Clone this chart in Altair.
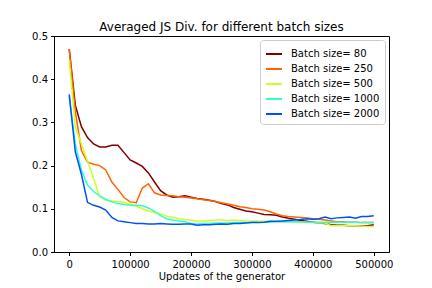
import altair as alt
import pandas as pd

updates = list(range(0, 500001, 10000))

b80 = [0.47, 0.34, 0.29, 0.265, 0.25, 0.243, 0.243, 0.247, 0.247, 0.23,
       0.213, 0.206, 0.198, 0.183, 0.162, 0.142, 0.132, 0.127, 0.128, 0.13,
       0.127, 0.124, 0.122, 0.12, 0.117, 0.112, 0.109, 0.103, 0.099, 0.095,
       0.093, 0.09, 0.087, 0.086, 0.085, 0.081, 0.078, 0.076, 0.073, 0.071,
       0.069, 0.067, 0.066, 0.063, 0.062, 0.062, 0.061, 0.061, 0.061, 0.061,
       0.063]
b250 = [0.47, 0.325, 0.235, 0.208, 0.203, 0.2, 0.19, 0.162, 0.145, 0.126,
        0.116, 0.114, 0.148, 0.158, 0.137, 0.132, 0.131, 0.13, 0.128, 0.127,
        0.125, 0.123, 0.121, 0.119, 0.117, 0.114, 0.111, 0.108, 0.105, 0.103,
        0.1, 0.099, 0.097, 0.093, 0.088, 0.084, 0.082, 0.081, 0.08, 0.079,
        0.077, 0.076, 0.074, 0.072, 0.07, 0.07, 0.069, 0.069, 0.068, 0.068,
        0.068]
b500 = [0.444, 0.29, 0.25, 0.21, 0.17, 0.128, 0.12, 0.118, 0.117, 0.115,
        0.111, 0.106, 0.1, 0.095, 0.092, 0.088, 0.083, 0.08, 0.077, 0.075,
        0.074, 0.071, 0.072, 0.073, 0.074, 0.074, 0.073, 0.074, 0.073, 0.072,
        0.072, 0.072, 0.071, 0.071, 0.07, 0.07, 0.07, 0.069, 0.069, 0.069,
        0.068, 0.067, 0.067, 0.061, 0.061, 0.061, 0.061, 0.061, 0.06, 0.059,
        0.059]
b1000 = [0.36, 0.25, 0.19, 0.155, 0.14, 0.13, 0.122, 0.116, 0.112, 0.11,
         0.108, 0.108, 0.107, 0.102, 0.094, 0.084, 0.077, 0.074, 0.072, 0.07,
         0.066, 0.065, 0.066, 0.066, 0.067, 0.067, 0.067, 0.068, 0.068, 0.068,
         0.069, 0.069, 0.069, 0.069, 0.07, 0.07, 0.07, 0.07, 0.07, 0.069,
         0.069, 0.069, 0.069, 0.069, 0.069, 0.069, 0.069, 0.069, 0.068, 0.068,
         0.068]
b2000 = [0.365, 0.232, 0.18, 0.115, 0.108, 0.104, 0.097, 0.08, 0.072, 0.07,
         0.068, 0.066, 0.066, 0.065, 0.065, 0.066, 0.065, 0.064, 0.064, 0.065,
         0.065, 0.062, 0.063, 0.063, 0.064, 0.065, 0.064, 0.066, 0.066, 0.067,
         0.068, 0.068, 0.069, 0.071, 0.071, 0.072, 0.073, 0.074, 0.075, 0.077,
         0.076, 0.077, 0.081, 0.077, 0.079, 0.08, 0.081, 0.078, 0.082, 0.082,
         0.084]

labels = ["Batch size= 80", "Batch size= 250", "Batch size= 500",
          "Batch size= 1000", "Batch size= 2000"]
colors = ["#800000", "#ff6400", "#ccff28", "#30ffc8", "#0050ff"]
series = [b80, b250, b500, b1000, b2000]

rows = []
for i, (lab, vals) in enumerate(zip(labels, series)):
    for u, v in zip(updates, vals):
        rows.append({"updates": u, "js": v, "batch": lab, "order": i})
df = pd.DataFrame(rows)

font = "DejaVu Sans"

chart = alt.Chart(df).mark_line(strokeWidth=1.5).encode(
    x=alt.X("updates:Q",
            scale=alt.Scale(domain=[-25000, 525000], nice=False, zero=False),
            axis=alt.Axis(title="Updates of the generator",
                          values=[0, 100000, 200000, 300000, 400000, 500000],
                          format="d", grid=False, tickColor="black",
                          domainColor="black", labelColor="black",
                          titleColor="black", tickSize=3.5, labelPadding=4,
                          titlePadding=2, labelFontSize=10, titleFontSize=10,
                          titleFontWeight="normal", labelFont=font, titleFont=font)),
    y=alt.Y("js:Q",
            scale=alt.Scale(domain=[0, 0.5], nice=False),
            axis=alt.Axis(title=None, values=[0, 0.1, 0.2, 0.3, 0.4, 0.5],
                          format=".1f", grid=False, tickColor="black",
                          domainColor="black", labelColor="black",
                          tickSize=3.5, labelPadding=3, labelFontSize=10,
                          labelFont=font)),
    color=alt.Color("batch:N",
                    scale=alt.Scale(domain=labels, range=colors),
                    legend=alt.Legend(title=None, orient="none",
                                      legendX=206, legendY=4,
                                      symbolType="stroke", symbolSize=256,
                                      symbolStrokeWidth=2, labelFontSize=10,
                                      labelFont=font, labelColor="black",
                                      strokeColor="#cccccc", fillColor="white",
                                      cornerRadius=3, padding=5, rowPadding=1,
                                      labelOffset=8)),
    detail="order:O",
    order=alt.Order("updates:Q"),
).properties(
    width=335, height=216,
    title=alt.TitleParams("Averaged JS Div. for different batch sizes",
                          font=font, fontSize=12, fontWeight="normal",
                          color="black", offset=0, dy=3),
    autosize=alt.AutoSizeParams(type="none"),
    padding={"left": 46, "top": 28, "right": 35, "bottom": 30},
).configure_view(stroke="black", strokeWidth=1)

chart.save("out.html", embed_options={"renderer": "svg", "actions": False})
